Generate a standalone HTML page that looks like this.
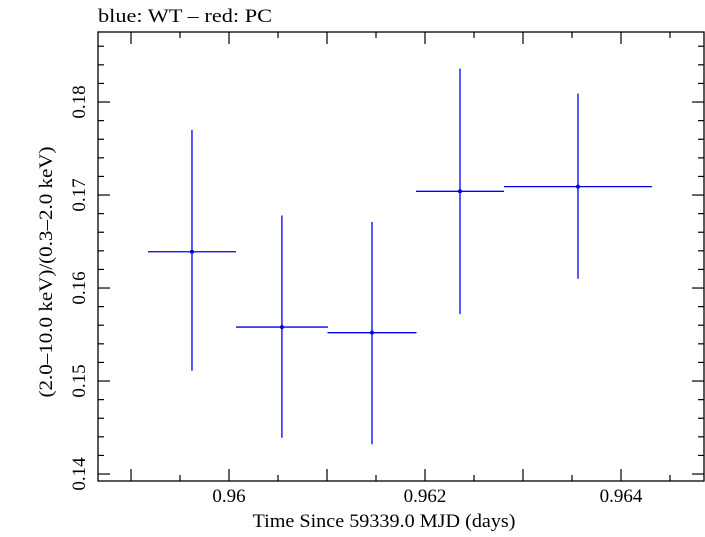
<!DOCTYPE html>
<html><head><meta charset="utf-8"><style>
body{margin:0;background:#fff;}
svg text{font-family:"Liberation Serif",serif;fill:#000;}
</style></head><body>
<svg id="chart" width="705" height="532" xmlns="http://www.w3.org/2000/svg">
<text x="98" y="22" font-size="19" textLength="174" lengthAdjust="spacingAndGlyphs">blue: WT – red: PC</text>
<rect x="98" y="32" width="606" height="449" fill="none" stroke="#000" stroke-width="1.3"/>
<g id="axes"></g>
<g id="marks"></g>
<text x="384" y="527" font-size="19" text-anchor="middle" textLength="263" lengthAdjust="spacingAndGlyphs">Time Since 59339.0 MJD (days)</text>
<text transform="translate(52,272) rotate(-90)" font-size="19" text-anchor="middle" textLength="251" lengthAdjust="spacingAndGlyphs">(2.0–10.0 keV)/(0.3–2.0 keV)</text>
</svg>
<script>
const times=[0.959622,0.96054,0.961459,0.962357,0.963561];
const timeErr=[0.000449,0.000469,0.000454,0.000449,0.000755];
const ratios=[0.1639,0.1558,0.1552,0.1704,0.1709];
const ratioHi=[0.1770,0.1678,0.1671,0.1836,0.1809];
const ratioLo=[0.1511,0.1439,0.1432,0.1572,0.1610];
const xTicks=[0.96,0.962,0.964];
const xTickLabels=["0.96","0.962","0.964"];
const yTicks=[0.14,0.15,0.16,0.17,0.18];
const yTickLabels=["0.14","0.15","0.16","0.17","0.18"];
const X0=98,X1=704,Y0=32,Y1=481,xmin=0.958663,xmax=0.964847,ymin=0.13925,ymax=0.18753;
const sx=v=>X0+(v-xmin)/(xmax-xmin)*(X1-X0);
const sy=v=>Y1-(v-ymin)/(ymax-ymin)*(Y1-Y0);
const NS="http://www.w3.org/2000/svg";
function mk(p,tag,at){const e=document.createElementNS(NS,tag);for(const k in at)e.setAttribute(k,at[k]);p.appendChild(e);return e;}
const ax=document.getElementById('axes'),mg=document.getElementById('marks');
function ln(p,x1,y1,x2,y2,c,w){return mk(p,'line',{x1,y1,x2,y2,stroke:c,'stroke-width':w});}
for(let k=1917;k<=1930;k++){const v=k/2000;if(v<xmin||v>xmax)continue;const x=sx(v);const major=k%2===0;const L=major?12:6;
const t1=ln(ax,x,Y1,x,Y1-L,'#000',1.2);
const t2=ln(ax,x,Y0,x,Y0+L,'#000',1.2);}
xTicks.forEach((v,i)=>{const t=mk(ax,'text',{x:sx(v),y:502,'font-size':19,'text-anchor':'middle'});t.textContent=xTickLabels[i];
});
for(let k=70;k<=187;k++){const v=k/500;if(v<ymin||v>ymax)continue;const y=sy(v);const major=k%5===0;const L=major?12:6;
const t1=ln(ax,X0,y,X0+L,y,'#000',1.2);
const t2=ln(ax,X1,y,X1-L,y,'#000',1.2);}
yTicks.forEach((v,i)=>{const t=mk(ax,'text',{transform:`translate(85,${sy(v)}) rotate(-90)`,'font-size':19,'text-anchor':'middle'});t.textContent=yTickLabels[i];
});
times.forEach((t,i)=>{const x=sx(t),y=sy(ratios[i]);
const h=ln(mg,sx(t-timeErr[i]),y,sx(t+timeErr[i]),y,'#0000ee',1.3);

const v=ln(mg,x,sy(ratioHi[i]),x,sy(ratioLo[i]),'#0000ee',1.3);

const c=mk(mg,'circle',{cx:x,cy:y,r:2,fill:'#0000ee'});
});
</script>
</body></html>
